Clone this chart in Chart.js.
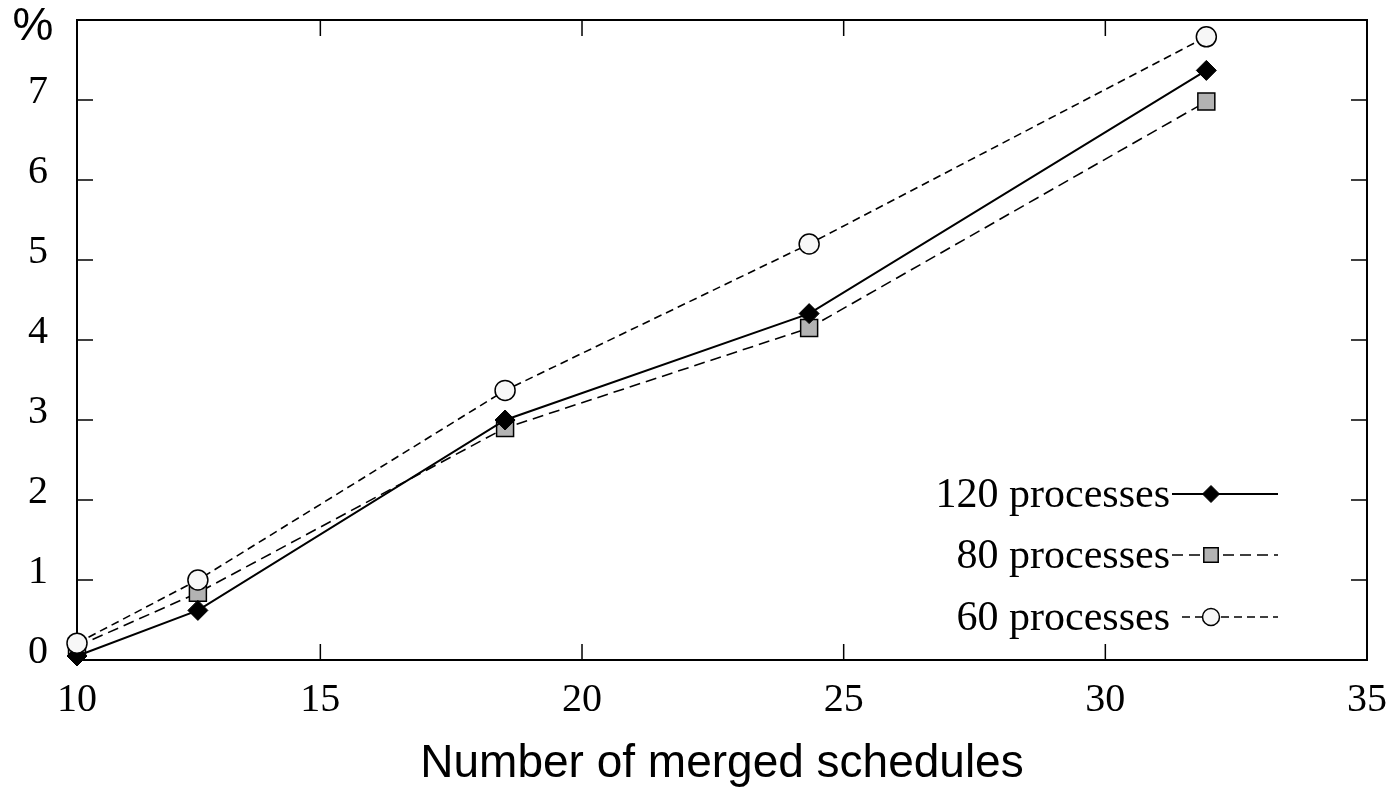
<!DOCTYPE html>
<html>
<head>
<meta charset="utf-8">
<script src="https://cdn.jsdelivr.net/npm/chart.js@4.4.0/dist/chart.umd.min.js"></script>
<style>
  html, body { margin: 0; padding: 0; background: #fff; }
  canvas { display: block; }
</style>
</head>
<body>
<canvas id="chart" width="1397" height="790"></canvas>
<script>
// values
const xValues = [10.35, 12.66, 18.53, 24.34, 31.93];
const p120 = [0.05, 0.62, 3.0, 4.33, 7.37];
const p80 = [0.17, 0.84, 2.9, 4.15, 6.98];
const p60 = [0.21, 1.0, 3.37, 5.2, 7.79];
const seriesLabels = ['120 processes', '80 processes', '60 processes'];
const xTickValues = [15, 20, 25, 30, 35];
const xFirstLabel = '10';
const yMax = 8;
const yUnit = '%';

const xMin = xValues[0];
const toPoints = ys => ys.map((y, i) => ({ x: xValues[i], y: y }));

const serif = 'Liberation Serif, Times New Roman, serif';
const sans = 'Liberation Sans, Arial, sans-serif';

// inward tick marks, the box round the plot and the unit label
const framePlugin = {
  id: 'frame',
  beforeDatasetsDraw(chart) {
    const { ctx, chartArea: a, scales } = chart;
    ctx.save();
    ctx.strokeStyle = '#000';
    ctx.lineWidth = 1.5;
    const len = 16;
    ctx.beginPath();
    scales.x.ticks.forEach(t => {
      if (t.value <= xMin || t.value >= 35) return;
      const px = scales.x.getPixelForValue(t.value);
      ctx.moveTo(px, a.top); ctx.lineTo(px, a.top + len);
      ctx.moveTo(px, a.bottom); ctx.lineTo(px, a.bottom - len);
    });
    scales.y.ticks.forEach(t => {
      if (t.value <= 0 || t.value >= yMax) return;
      const py = scales.y.getPixelForValue(t.value);
      ctx.moveTo(a.left, py); ctx.lineTo(a.left + len, py);
      ctx.moveTo(a.right, py); ctx.lineTo(a.right - len, py);
    });
    ctx.stroke();
    ctx.lineWidth = 2;
    ctx.strokeRect(a.left, a.top, a.right - a.left, a.bottom - a.top);
    ctx.fillStyle = '#000';
    ctx.font = '46px ' + sans;
    ctx.textAlign = 'center';
    ctx.textBaseline = 'middle';
    ctx.fillText(yUnit, a.left - 44, a.top + 7);
    ctx.restore();
  }
};

// legend inside the plot: text, then line sample with marker
const legendPlugin = {
  id: 'insideLegend',
  afterDatasetsDraw(chart) {
    const { ctx, chartArea: a } = chart;
    const rowOffsets = [166, 105, 43];
    const lineStarts = [a.right - 195, a.right - 195, a.right - 185];
    const lineEnd = a.right - 89;
    const markX = a.right - 156;
    ctx.save();
    [0, 1, 2].forEach(row => {
      const ds = chart.data.datasets[row];
      const y = a.bottom - rowOffsets[row];
      ctx.fillStyle = '#000';
      ctx.font = '42px ' + serif;
      ctx.textAlign = 'right';
      ctx.textBaseline = 'middle';
      ctx.fillText(ds.label, a.right - 197, y + 2);
      ctx.beginPath();
      ctx.setLineDash(ds.borderDash || []);
      ctx.lineWidth = ds.borderWidth;
      ctx.strokeStyle = '#000';
      ctx.moveTo(lineStarts[row], y);
      ctx.lineTo(lineEnd, y);
      ctx.stroke();
      ctx.setLineDash([]);
      ctx.fillStyle = ds.pointBackgroundColor;
      ctx.strokeStyle = '#000';
      ctx.lineWidth = ds.pointBorderWidth;
      Chart.helpers.drawPoint(ctx, {
        pointStyle: ds.pointStyle,
        radius: ds.pointRadius * 0.85,
        rotation: 0,
        borderWidth: ds.pointBorderWidth
      }, markX, y);
    });
    ctx.restore();
  }
};

new Chart(document.getElementById('chart'), {
  type: 'line',
  data: {
    datasets: [
      {
        label: seriesLabels[0],
        data: toPoints(p120),
        borderColor: '#000',
        borderWidth: 2,
        pointStyle: 'rectRot',
        pointRadius: 10,
        pointBackgroundColor: '#000',
        pointBorderColor: '#000',
        pointBorderWidth: 1,
        order: 1,
        clip: false
      },
      {
        label: seriesLabels[1],
        data: toPoints(p80),
        borderColor: '#000',
        borderWidth: 1.6,
        borderDash: [11, 6],
        pointStyle: 'rect',
        pointRadius: 12,
        pointBackgroundColor: '#b3b3b3',
        pointBorderColor: '#000',
        pointBorderWidth: 1.5,
        order: 2,
        clip: false
      },
      {
        label: seriesLabels[2],
        data: toPoints(p60),
        borderColor: '#000',
        borderWidth: 1.6,
        borderDash: [8, 5],
        pointStyle: 'circle',
        pointRadius: 10,
        pointBackgroundColor: '#f7f7f7',
        pointBorderColor: '#000',
        pointBorderWidth: 1.5,
        order: 0,
        clip: false
      }
    ]
  },
  options: {
    responsive: false,
    animation: false,
    layout: { padding: 0 },
    plugins: {
      legend: { display: false },
      tooltip: { enabled: false }
    },
    scales: {
      x: {
        type: 'linear',
        min: xMin,
        max: 35,
        afterBuildTicks: s => { s.ticks = [xMin].concat(xTickValues).map(v => ({ value: v })); },
        afterFit: s => { s.height = 130; s.paddingLeft = 0; s.paddingRight = 30; },
        grid: { display: false, drawTicks: false },
        border: { display: false },
        ticks: {
          padding: 20,
          color: '#000',
          maxRotation: 0,
          font: { family: serif, size: 40, lineHeight: 1 },
          callback: v => (v === xMin ? xFirstLabel : String(v))
        },
        title: {
          display: true,
          text: 'Number of merged schedules',
          color: '#000',
          font: { family: sans, size: 46, lineHeight: 1.2 },
          padding: { top: 0, bottom: -2 }
        }
      },
      y: {
        min: 0,
        max: yMax,
        afterFit: s => { s.width = 77; s.paddingTop = 20; s.paddingBottom = 0; },
        grid: { display: false, drawTicks: false },
        border: { display: false },
        ticks: {
          stepSize: 1,
          padding: 29,
          labelOffset: -8,
          color: '#000',
          font: { family: serif, size: 40, lineHeight: 1 },
          callback: v => (v === yMax ? '' : String(v))
        }
      }
    }
  },
  plugins: [framePlugin, legendPlugin]
});
</script>
</body>
</html>
